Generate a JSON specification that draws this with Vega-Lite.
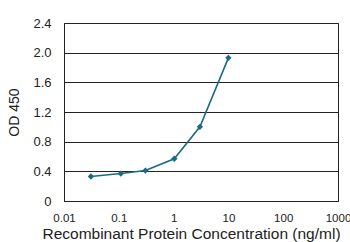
{
  "$schema": "https://vega.github.io/schema/vega-lite/v6.json",
  "width": 274,
  "height": 178,
  "autosize": {"type": "none"},
  "padding": {"left": 64, "top": 23, "right": 12, "bottom": 41},
  "config": {
    "font": "Liberation Sans",
    "view": {"stroke": "#222", "strokeWidth": 1},
    "axis": {"labelColor": "#222", "titleColor": "#222", "titleFontWeight": "normal", "domainColor": "#222", "gridColor": "#222", "gridOpacity": 1, "labelFlush": false, "labelOverlap": false}
  },
  "data": {
    "values": [
      {"conc": 0.031, "od": 0.33},
      {"conc": 0.109, "od": 0.37},
      {"conc": 0.306, "od": 0.41},
      {"conc": 1.03, "od": 0.57},
      {"conc": 3.02, "od": 1.0},
      {"conc": 10.0, "od": 1.93}
    ]
  },
  "mark": {
    "type": "line",
    "color": "#1b6a85",
    "strokeWidth": 1.6,
    "point": {"shape": "diamond", "size": 40, "filled": true, "color": "#1b6a85"}
  },
  "encoding": {
    "x": {
      "field": "conc",
      "type": "quantitative",
      "scale": {"type": "log", "domain": [0.01, 1000]},
      "axis": {
        "values": [0.01, 0.1, 1, 10, 100, 1000],
        "format": "~g",
        "grid": false,
        "ticks": false,
        "labelFontSize": 11.5,
        "labelPadding": 11,
        "labelDx": -4,
        "title": "Recombinant Protein Concentration (ng/ml)",
        "titleFontSize": 15.5,
        "titleX": 127,
        "titlePadding": 3
      }
    },
    "y": {
      "field": "od",
      "type": "quantitative",
      "scale": {"domain": [0, 2.4]},
      "axis": {
        "values": [0, 0.4, 0.8, 1.2, 1.6, 2.0, 2.4],
        "labelExpr": "datum.value == 0 ? '0' : format(datum.value, '.1f')",
        "grid": true,
        "ticks": false,
        "labelFontSize": 13,
        "labelPadding": 13,
        "title": "OD 450",
        "titleFontSize": 14,
        "titlePadding": 11
      }
    }
  }
}
